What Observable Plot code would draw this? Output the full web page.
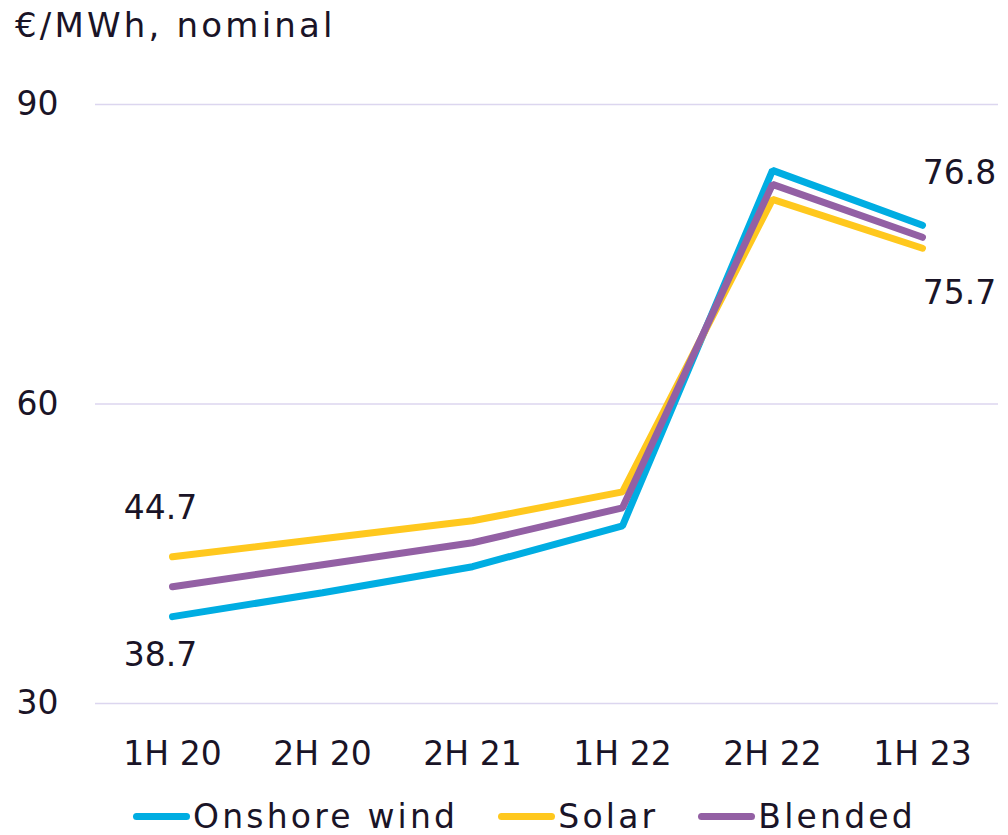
<!DOCTYPE html>
<html>
<head>
<meta charset="utf-8">
<script src="https://cdn.jsdelivr.net/npm/d3@7"></script>
<script src="https://cdn.jsdelivr.net/npm/@observablehq/plot@0.6"></script>
<style>
  body { margin: 0; background: #fff; font-family: "DejaVu Sans", sans-serif; color: #1a1427; }
  #title { height: 60px; font-size: 34px; letter-spacing: 3.2px; padding-left: 15px; line-height: 50px; box-sizing: border-box; }
  #legend { display: flex; align-items: center; padding-left: 133px; font-size: 33px; letter-spacing: 3.2px; height: 55px; margin-top: 9px; }
  .item { display: flex; align-items: center; margin-right: 40px; }
  .sw { width: 57px; height: 7px; border-radius: 4px; margin-right: 3px; }
</style>
</head>
<body>
<div id="title">€/MWh, nominal</div>
<div id="chart"></div>
<div id="legend"></div>
<script>
const periods = ["1H 20", "2H 20", "2H 21", "1H 22", "2H 22", "1H 23"];
const seriesNames = ["Onshore wind", "Solar", "Blended"];
const seriesColors = ["#00ade2", "#ffc81e", "#9360a4"];
const onshoreWind = [38.7, 41.1, 43.7, 47.8, 83.4, 77.9];
const solar = [44.7, 46.5, 48.3, 51.2, 80.5, 75.6];
const blended = [41.7, 43.9, 46.1, 49.6, 82.0, 76.7];
const yTicks = [30, 60, 90];
const labelText = ["44.7", "38.7", "76.8", "75.7"];
const labelSeries = ["Solar", "Onshore wind", "Onshore wind", "Solar"];
const labelPeriod = ["1H 20", "1H 20", "1H 23", "1H 23"];

const seriesValues = [onshoreWind, solar, blended];
const rows = [];
seriesNames.forEach((s, i) => periods.forEach((p, j) => rows.push({series: s, period: p, value: seriesValues[i][j]})));
const labels = labelText.map((t, i) => {
  const si = seriesNames.indexOf(labelSeries[i]);
  const pj = periods.indexOf(labelPeriod[i]);
  return {text: t, period: labelPeriod[i], value: seriesValues[si][pj], key: "k" + i};
});
const dxMap = {k0: -12, k1: -12, k2: 37, k3: 37};
const dyMap = {k0: -48, k1: 39, k2: -52, k3: 45};

const plot = Plot.plot({
  width: 1008,
  height: 720,
  marginTop: 44,
  marginBottom: 77,
  marginLeft: 95,
  marginRight: 10,
  style: {fontFamily: "DejaVu Sans, sans-serif", fontSize: "33px", color: "#1a1427", background: "#fff"},
  x: {type: "point", domain: periods, padding: 0.5, label: null, tickSize: 0, tickPadding: 38},
  y: {domain: [30, 90], ticks: yTicks, label: null, tickSize: 0, tickPadding: 37},
  color: {domain: seriesNames, range: seriesColors},
  marks: [
    Plot.ruleY(yTicks, {stroke: "#dcd6ef", strokeWidth: 1.5}),
    Plot.line(rows, {x: "period", y: "value", z: "series", stroke: "series", strokeWidth: 7, strokeLinecap: "round", strokeLinejoin: "miter"}),
    ...["k0", "k1", "k2", "k3"].map(k => Plot.text(labels.filter(d => d.key === k), {x: "period", y: "value", text: "text", dx: dxMap[k], dy: dyMap[k], fontSize: 33, fill: "#1a1427"}))
  ]
});
document.getElementById("chart").appendChild(plot);

const legend = document.getElementById("legend");
seriesNames.forEach((s, i) => {
  const item = document.createElement("div");
  item.className = "item";
  const sw = document.createElement("span");
  sw.className = "sw";
  sw.style.background = seriesColors[i];
  const tx = document.createElement("span");
  tx.textContent = s;
  item.appendChild(sw); item.appendChild(tx);
  legend.appendChild(item);
});
</script>
</body>
</html>
